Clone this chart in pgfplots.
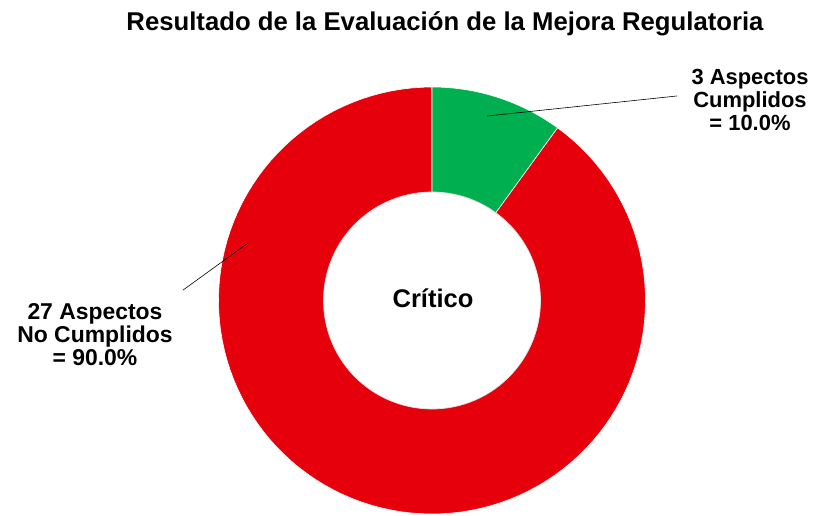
\documentclass[border=0pt]{standalone}
\usepackage{pgfplots}
\usepackage{pgfplotstable}
\pgfplotsset{compat=1.18}
\usepackage{fontspec}
\setmainfont{Liberation Sans}
\definecolor{cred}{RGB}{230,0,11}
\definecolor{cgreen}{RGB}{0,176,80}
\pgfplotstableread{
label value
Cumplidos 3
NoCumplidos 27
}\datatable
\pgfplotstablegetelem{0}{value}\of\datatable\let\vA\pgfplotsretval
\pgfplotstablegetelem{1}{value}\of\datatable\let\vB\pgfplotsretval
\pgfmathsetmacro{\aStart}{90}
\pgfmathsetmacro{\aMid}{90-360*\vA/(\vA+\vB)}
\pgfmathsetmacro{\aEnd}{\aMid-360*\vB/(\vA+\vB)}
\begin{document}
\begin{tikzpicture}
\useasboundingbox (0bp,0bp) rectangle (818bp,516bp);
\begin{axis}[at={(432bp,215.5bp)}, anchor=center, scale only axis,
  width=427bp, height=427bp, xmin=-1, xmax=1, ymin=-1, ymax=1,
  hide axis, clip=false]
\addplot[fill=cred, draw=white, line width=0.6pt, domain=\aEnd:\aMid, samples=120]
  ({cos(x)},{sin(x)}) -- (axis cs:0,0) -- cycle;
\addplot[fill=cgreen, draw=white, line width=0.6pt, domain=\aMid:\aStart, samples=30]
  ({cos(x)},{sin(x)}) -- (axis cs:0,0) -- cycle;
\addplot[fill=white, draw=black!12, line width=0.8pt, domain=0:360, samples=120]
  ({0.508*cos(x)},{0.508*sin(x)}) -- cycle;
\addplot[black, line width=0.6pt] coordinates {(0.258,0.864) (1.148,0.958)};
\addplot[black, line width=0.6pt] coordinates {(-0.862,0.269) (-1.166,0.049)};
\end{axis}
\node[font=\bfseries\fontsize{25.8}{30}\selectfont] at (445bp,492bp) {Resultado de la Evaluación de la Mejora Regulatoria};
\node[font=\bfseries\fontsize{25.6}{30}\selectfont] at (433bp,218bp) {Crítico};
\node[align=center, font=\bfseries\fontsize{22}{23.5}\selectfont] at (750bp,416bp) {3 Aspectos\\Cumplidos\\= 10.0\%};
\node[align=center, font=\bfseries\fontsize{23}{23}\selectfont] at (95bp,181bp) {27 Aspectos\\No Cumplidos\\= 90.0\%};
\end{tikzpicture}
\end{document}
